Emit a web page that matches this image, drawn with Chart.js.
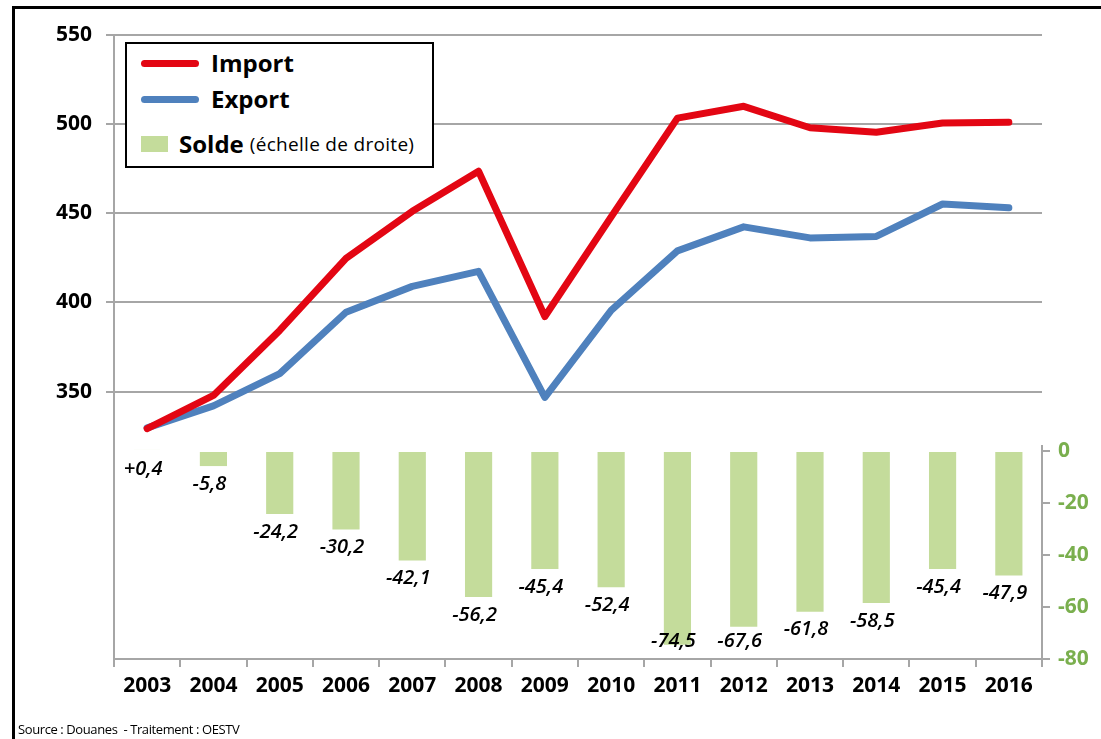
<!DOCTYPE html>
<html>
<head>
<meta charset="utf-8">
<script src="https://cdn.jsdelivr.net/npm/chart.js@4"></script>
<style>
  html, body { margin: 0; padding: 0; background: #fff; }
  #wrap { position: relative; width: 1101px; height: 739px; overflow: hidden; }
  #frame { position: absolute; left: 12px; top: 6px; right: -10px; bottom: -10px;
           border-top: 3px solid #000; border-left: 3px solid #000; }
  #legend { position: absolute; left: 125px; top: 42px; width: 305px; height: 122px;
            border: 2px solid #000; background: #fff; font-family: 'Open Sans', sans-serif; }
  .item { position: absolute; left: 14px; display: flex; align-items: center; line-height: 34px; }
  .line { width: 58px; height: 7px; border-radius: 4px; margin-right: 12px; }
  .box { width: 27px; height: 16px; margin-right: 11px; }
  .lbl { font-weight: 700; font-size: 24px; color: #000; }
  .sub { font-size: 19px; color: #000; margin-left: 6px; letter-spacing: 0.3px; }
  #source { position: absolute; left: 18px; top: 720px; font-family: 'Open Sans', sans-serif;
            font-size: 13px; color: #000; letter-spacing: -0.4px; }
</style>
</head>
<body>
<div id="wrap">
  <canvas id="chart" width="1101" height="739"></canvas>
  <div id="frame"></div>
  <div id="legend"></div>
  <div id="source">Source : Douanes&nbsp; - Traitement : OESTV</div>
</div>
<script>
// Data
const years = ['2003', '2004', '2005', '2006', '2007', '2008', '2009', '2010', '2011', '2012', '2013', '2014', '2015', '2016'];
const importValues = [329.2, 347.8, 384.3, 424.7, 451.1, 473.6, 392.1, 448.0, 503.4, 510.0, 498.0, 495.5, 500.6, 501.0];
const exportValues = [329.6, 342.0, 360.1, 394.5, 409.0, 417.4, 346.7, 395.6, 428.9, 442.4, 436.2, 437.0, 455.2, 453.1];
const soldeValues = [0.4, -5.8, -24.2, -30.2, -42.1, -56.2, -45.4, -52.4, -74.5, -67.6, -61.8, -58.5, -45.4, -47.9];
const leftTicks = [350, 400, 450, 500, 550];
const rightTicks = [0, -20, -40, -60, -80];

const RED = '#E30613';
const BLUE = '#4F81BD';
const GREEN = '#C4DC9B';
const GREEN_TEXT = '#7AAF4E';
const GREY = '#A6A6A6';
const FONT = "'Open Sans', sans-serif";

function formatSolde(v) {
    return (v > 0 ? '+' : '') + v.toFixed(1).replace('.', ',');
}

// Labels under each bar
const barLabels = {
    id: 'barLabels',
    afterDatasetsDraw(chart) {
        const ctx = chart.ctx;
        const meta = chart.getDatasetMeta(2);
        const base = chart.scales.y2.getPixelForValue(0);
        ctx.save();
        ctx.font = 'italic 600 20px ' + FONT;
        ctx.fillStyle = '#000';
        ctx.textAlign = 'center';
        ctx.textBaseline = 'middle';
        meta.data.forEach((bar, i) => {
            let y = Math.max(bar.y, base) + 18;
            y = Math.min(y, chart.chartArea.bottom - 18);
            ctx.fillText(formatSolde(soldeValues[i]), bar.x - 4, y);
        });
        ctx.restore();
    }
};

// Right axis line only over the negative part
const rightAxisLine = {
    id: 'rightAxisLine',
    afterDraw(chart) {
        const ctx = chart.ctx;
        const s = chart.scales.y2;
        ctx.save();
        ctx.strokeStyle = GREY;
        ctx.lineWidth = 2;
        ctx.beginPath();
        ctx.moveTo(s.left, s.getPixelForValue(0) - 6);
        ctx.lineTo(s.left, chart.chartArea.bottom);
        ctx.stroke();
        ctx.restore();
    }
};

const chart = new Chart(document.getElementById('chart'), {
    data: {
        labels: years,
        datasets: [
            {
                type: 'line', label: 'Import', data: importValues, yAxisID: 'y',
                borderColor: RED, backgroundColor: RED, borderWidth: 7,
                pointRadius: 0, borderCapStyle: 'round', borderJoinStyle: 'round',
                tension: 0, order: 0
            },
            {
                type: 'line', label: 'Export', data: exportValues, yAxisID: 'y',
                borderColor: BLUE, backgroundColor: BLUE, borderWidth: 7,
                pointRadius: 0, borderCapStyle: 'round', borderJoinStyle: 'round',
                tension: 0, order: 1
            },
            {
                type: 'bar', label: 'Solde', data: soldeValues, yAxisID: 'y2',
                backgroundColor: GREEN, barPercentage: 0.41, categoryPercentage: 1,
                order: 2
            }
        ]
    },
    options: {
        responsive: false,
        animation: false,
        layout: { padding: { top: 35, left: 0, right: 0, bottom: 0 } },
        plugins: { legend: { display: false }, tooltip: { enabled: false } },
        scales: {
            x: {
                offset: true,
                grid: { offset: true, drawOnChartArea: false, color: GREY, lineWidth: 2, tickLength: 8 },
                border: { color: GREY, width: 2 },
                ticks: { color: '#000', font: { family: FONT, size: 21, weight: 700 }, padding: 6, maxRotation: 0 },
                afterFit(scale) { scale.height = 80; }
            },
            y: {
                position: 'left', min: 200, max: 550,
                afterBuildTicks(scale) { scale.ticks = leftTicks.map(v => ({ value: v })); },
                grid: { color: GREY, lineWidth: 2, tickLength: 8 },
                border: { color: GREY, width: 2 },
                ticks: { color: '#000', font: { family: FONT, size: 21, weight: 700 }, padding: 14 },
                afterFit(scale) { scale.width = 114; }
            },
            y2: {
                position: 'right', min: -80, max: 160,
                afterBuildTicks(scale) { scale.ticks = rightTicks.map(v => ({ value: v })); },
                grid: { drawOnChartArea: false, color: GREY, lineWidth: 2, tickLength: 8 },
                border: { display: false },
                ticks: { color: GREEN_TEXT, font: { family: FONT, size: 21, weight: 700 }, padding: 8 },
                afterFit(scale) { scale.width = 59; }
            }
        }
    },
    plugins: [barLabels, rightAxisLine]
});

// Legend built from the datasets
const legend = document.getElementById('legend');
const legendTops = [2, 38, 83];
chart.data.datasets.forEach((ds, i) => {
    const item = document.createElement('div');
    item.className = 'item';
    item.style.top = legendTops[i] + 'px';
    if (ds.type === 'line') {
        item.innerHTML = `<span class="line" style="background:${ds.borderColor}"></span><span class="lbl">${ds.label}</span>`;
    } else {
        item.innerHTML = `<span class="box" style="background:${ds.backgroundColor}"></span><span class="lbl">${ds.label}</span><span class="sub">(échelle de droite)</span>`;
    }
    legend.appendChild(item);
});
</script>
</body>
</html>
